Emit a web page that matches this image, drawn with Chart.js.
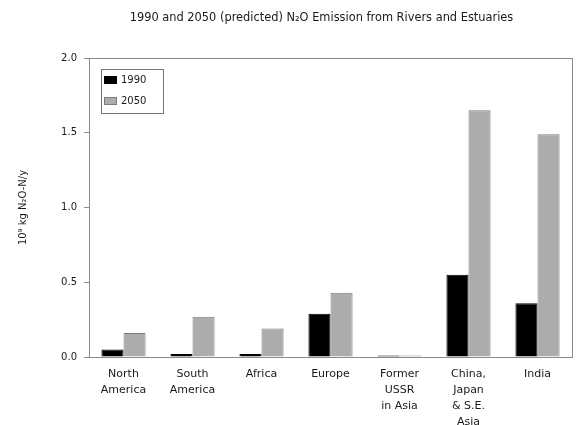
<!DOCTYPE html>
<html>
<head>
<meta charset="utf-8">
<script src="https://cdn.jsdelivr.net/npm/chart.js@4/dist/chart.umd.min.js"></script>
<style>
  html, body { margin: 0; padding: 0; background: #fff; }
  #wrap { width: 576px; height: 425px; }
</style>
</head>
<body>
<div id="wrap"><canvas id="c" width="576" height="425"></canvas></div>
<script>
// Regions along the x axis (multi-line labels)
const regions = [
  ["North", "America"],
  ["South", "America"],
  ["Africa"],
  ["Europe"],
  ["Former", "USSR", "in Asia"],
  ["China,", "Japan", "& S.E.", "Asia"],
  ["India"]
];

// N2O emission, 10^9 kg N2O-N per year
const emissions1990 = [0.05, 0.02, 0.02, 0.29, 0.01, 0.55, 0.36];
const emissions2050 = [0.16, 0.27, 0.19, 0.43, 0.01, 1.65, 1.49];

const yTicks = [0.0, 0.5, 1.0, 1.5, 2.0];

const titleText = "1990 and 2050 (predicted) N\u2082O Emission from Rivers and Estuaries";
const yAxisTitle = "10\u2079 kg N\u2082O-N/y";
const seriesNames = ["1990", "2050"];

const FONT = "'DejaVu Sans', Verdana, sans-serif";
const TEXT = "#1a1a1a";
const AXIS_GRAY = "#8a8a8a";

// Title, frame and inset legend drawn on top of the bars
const decorations = {
  id: "decorations",
  afterDraw(chart) {
    const ctx = chart.ctx;
    const a = chart.chartArea;
    ctx.save();

    // frame around the plot area
    ctx.strokeStyle = AXIS_GRAY;
    ctx.lineWidth = 1;
    ctx.strokeRect(Math.round(a.left) + 0.5, Math.round(a.top) + 0.5,
                   Math.round(a.right - a.left), Math.round(a.bottom - a.top));

    // title
    ctx.fillStyle = TEXT;
    ctx.font = "11.4px " + FONT;
    ctx.textAlign = "center";
    ctx.textBaseline = "middle";
    ctx.fillText(titleText, (a.left + a.right) / 2 - 9, 18);

    // legend box
    const lx = a.left + 12, ly = a.top + 11, lw = 62, lh = 44;
    ctx.strokeStyle = "#777";
    ctx.strokeRect(Math.round(lx) + 0.5, Math.round(ly) + 0.5, lw, lh);
    ctx.font = "10px " + FONT;
    ctx.textAlign = "left";
    chart.data.datasets.forEach((ds, i) => {
      const ey = ly + 11 + i * 21;
      ctx.fillStyle = ds.backgroundColor;
      ctx.fillRect(lx + 3, ey - 4, 13, 8);
      ctx.strokeStyle = ds.borderColor;
      ctx.strokeRect(lx + 3.5, ey - 3.5, 12, 7);
      ctx.fillStyle = TEXT;
      ctx.fillText(ds.label, lx + 20, ey + 0.5);
    });

    ctx.restore();
  }
};

new Chart(document.getElementById("c"), {
  type: "bar",
  data: {
    labels: regions,
    datasets: [
      {
        label: seriesNames[0],
        data: emissions1990,
        backgroundColor: "#000000",
        borderColor: "#000000",
        borderWidth: 1
      },
      {
        label: seriesNames[1],
        data: emissions2050,
        backgroundColor: "#acacac",
        borderColor: "#7c7c7c",
        borderWidth: 1
      }
    ]
  },
  options: {
    responsive: false,
    animation: false,
    devicePixelRatio: 1,
    layout: { padding: { top: 58, right: 4, left: 0, bottom: 0 } },
    datasets: {
      bar: { categoryPercentage: 0.64, barPercentage: 1.0 }
    },
    plugins: {
      legend: { display: false },
      title: { display: false },
      tooltip: { enabled: false }
    },
    scales: {
      x: {
        offset: true,
        grid: { display: false, drawTicks: false },
        border: { display: true, color: AXIS_GRAY },
        ticks: {
          color: TEXT,
          font: { family: FONT, size: 11, lineHeight: 16 / 11 },
          maxRotation: 0,
          autoSkip: false,
          padding: 9
        },
        afterFit(scale) { scale.height = 68; }
      },
      y: {
        min: 0,
        max: 2,
        afterBuildTicks(scale) { scale.ticks = yTicks.map(v => ({ value: v })); },
        grid: { drawOnChartArea: false, drawTicks: true, tickLength: 5, color: AXIS_GRAY },
        border: { display: true, color: AXIS_GRAY },
        ticks: {
          color: TEXT,
          font: { family: FONT, size: 10 },
          padding: 7,
          callback: v => Number(v).toFixed(1)
        },
        title: {
          display: true,
          text: yAxisTitle,
          color: TEXT,
          font: { family: FONT, size: 10 },
          padding: { top: 17, bottom: 0 }
        },
        afterFit(scale) { scale.width = 89; }
      }
    }
  },
  plugins: [decorations]
});
</script>
</body>
</html>
